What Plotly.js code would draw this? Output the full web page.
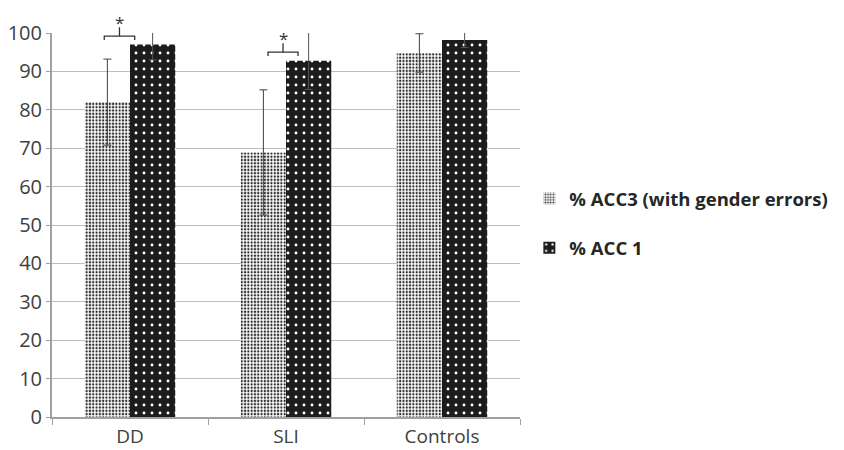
<!DOCTYPE html>
<html>
<head>
<meta charset="utf-8">
<script src="https://cdn.plot.ly/plotly-3.0.1.min.js"></script>
<style>html,body{margin:0;padding:0;background:#fff;}#chart{width:844px;height:450px;}</style>
</head>
<body>
<div id="chart"></div>
<script>
const categories = ["DD", "SLI", "Controls"];
const acc3Values = [82.0, 68.9, 94.8];
const acc3Errors = [11.2, 16.3, 5.0];
const acc1Values = [97.0, 92.8, 98.2];
const acc1Errors = [4.0, 7.5, 2.0];
const seriesNames = ["% ACC3 (with gender errors)", "% ACC 1"];
// significance brackets: category index, left/right offsets in category units
const sigCats = [0, 1];
const sigLeft = [-0.165, -0.115];
const sigRight = [0.03, 0.077];

const yMax = 100;
const font = "Open Sans, Noto Sans, sans-serif";

const traces = [
  {
    type: "bar", name: seriesNames[0], x: categories, y: acc3Values,
    legendgroup: "a",
    marker: {color: "#ffffff", line: {width: 0},
      pattern: {shape: ".", fgcolor: "#2a2a2a", bgcolor: "#ffffff", size: 3.3, solidity: 0.38, fillmode: "replace"}},
    error_y: {type: "data", array: acc3Errors, visible: true, color: "#404040", thickness: 1, width: 4}
  },
  {
    type: "bar", name: seriesNames[1], x: categories, y: acc1Values,
    legendgroup: "b",
    marker: {color: "#1c1c1c", line: {width: 0},
      pattern: {shape: ".", fgcolor: "#ffffff", bgcolor: "#1c1c1c", size: 8, solidity: 0.1, fillmode: "replace"}},
    error_y: {type: "data", array: acc1Errors, visible: true, color: "#555555", thickness: 1, width: 4}
  }
];

const shapes = [];
const annotations = [];
sigCats.forEach((ci, k) => {
  const base = acc1Values[ci] + 2.2;
  const xl = ci + sigLeft[k], xr = ci + sigRight[k], xm = (xl + xr) / 2;
  const yb = base / yMax, yt = (base - 1.0) / yMax, ym = (base + 2.3) / yMax;
  shapes.push({type: "path", xref: "x", yref: "paper",
    path: `M${xl},${yt} L${xl},${yb} L${xr},${yb} L${xr},${yt}`,
    line: {color: "#333333", width: 1.3}});
  shapes.push({type: "line", xref: "x", yref: "paper", x0: xm, x1: xm, y0: yb, y1: ym,
    line: {color: "#333333", width: 1.3}});
  annotations.push({xref: "x", yref: "paper", x: xm, y: (base + 3.6) / yMax, text: "*",
    showarrow: false, font: {family: font, size: 17, color: "#333333"}, yanchor: "middle"});
});

const layout = {
  width: 844, height: 450,
  margin: {l: 52, r: 324, t: 33, b: 33, autoexpand: false},
  paper_bgcolor: "#ffffff", plot_bgcolor: "#ffffff",
  barmode: "group", bargap: 0.42, bargroupgap: 0,
  showlegend: true,
  legend: {x: 1.02, xanchor: "left", y: 0.617, yanchor: "top",
    font: {family: font, size: 18.5, color: "#262626", weight: "bold"},
    traceorder: "grouped", tracegroupgap: 22, itemwidth: 30, bgcolor: "rgba(0,0,0,0)"},
  xaxis: {type: "category", tickson: "boundaries", ticks: "outside", ticklen: 6, tickcolor: "#a0a0a0",
    showline: true, linecolor: "#a0a0a0", linewidth: 2, showgrid: false, ticklabelstandoff: 1,
    tickfont: {family: font, size: 19, color: "#404040"}, fixedrange: true},
  yaxis: {range: [0, yMax], dtick: 10, showgrid: true, gridcolor: "#bdbdbd", gridwidth: 1,
    showline: true, linecolor: "#a0a0a0", linewidth: 2, ticks: "outside", ticklen: 4, tickcolor: "#a0a0a0",
    tickfont: {family: font, size: 20, color: "#404040"}, zeroline: false, fixedrange: true},
  shapes: shapes,
  annotations: annotations
};

Plotly.newPlot("chart", traces, layout, {displayModeBar: false, staticPlot: true});
</script>
</body>
</html>
